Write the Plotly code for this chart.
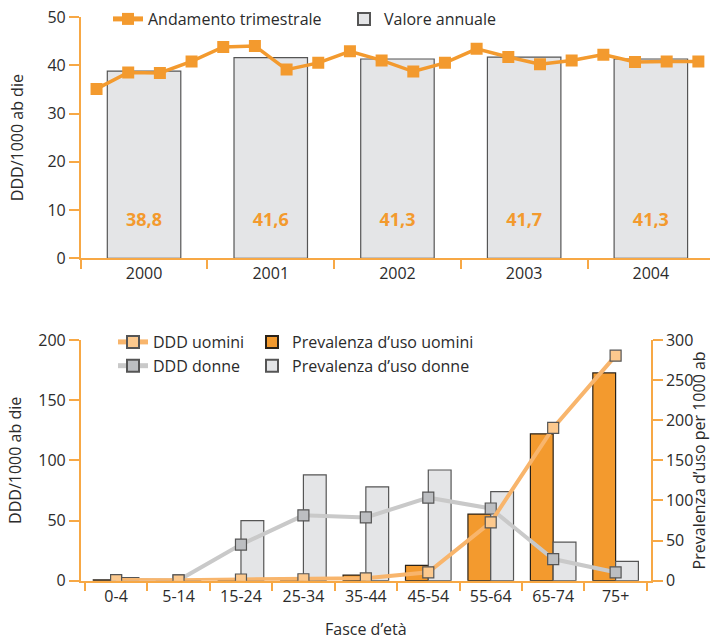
import plotly.graph_objects as go

# ---- data: annual series with quarterly trend ----
years = ["2000", "2001", "2002", "2003", "2004"]
annual_values = [38.8, 41.6, 41.3, 41.7, 41.3]
quarterly_values = [35.1, 38.5, 38.4, 40.8,
                    43.8, 44.0, 39.1, 40.5,
                    42.9, 41.0, 38.7, 40.5,
                    43.4, 41.7, 40.2, 41.0,
                    42.2, 40.7, 40.8, 40.8]

# ---- data: age bands ----
age_bands = ["0-4", "5-14", "15-24", "25-34", "35-44", "45-54", "55-64", "65-74", "75+"]
ddd_men = [0.5, 0.3, 1.0, 1.2, 2.0, 7.0, 48.5, 127, 187]
ddd_women = [0.3, 0.3, 30, 54.3, 52.6, 69, 60, 18, 7]
prev_men = [1, 0, 1, 4, 7, 19, 83, 183, 259]
prev_women = [4, 0, 75, 132, 117, 138, 111, 48, 24]

# ---- styling ----
FONT = "Open Sans"
TXT = "#2b2b2b"
AXIS = "#f7a845"
ORANGE = "#f39a2e"
LIGHT_ORANGE = "#f8b56c"
MARKER_ORANGE = "#fcc98e"
BAR_GREY = "#e4e5e7"
LINE_GREY = "#c9c9c9"
MARKER_GREY = "#bcbec1"
LABEL_Y = 7.6  # height of the value labels inside the annual bars

W, H = 710, 640
def px_x(p): return p / W
def px_y(p): return 1 - p / H

# quarter positions across each year's band
year_pos = list(range(len(years)))
quarter_pos = [y - 0.5 + 0.125 + 0.25 * q for y in year_pos for q in range(4)]

fig = go.Figure()

# top chart
fig.add_trace(go.Bar(
    x=year_pos, y=annual_values, width=0.58, name="Valore annuale",
    marker=dict(color=BAR_GREY, line=dict(color="#555555", width=1.2)),
    xaxis="x", yaxis="y", legend="legend4",
))
fig.add_trace(go.Scatter(
    x=quarter_pos, y=quarterly_values, mode="lines+markers", name="Andamento trimestrale",
    line=dict(color=ORANGE, width=3.5),
    marker=dict(symbol="square", size=12, color=ORANGE),
    xaxis="x", yaxis="y", legend="legend",
))
fig.add_trace(go.Scatter(
    x=year_pos, y=[LABEL_Y] * len(years), mode="text",
    text=[f"{v:.1f}".replace(".", ",") for v in annual_values],
    textfont=dict(family=FONT, size=18, color=ORANGE, weight="bold"),
    showlegend=False, hoverinfo="skip", xaxis="x", yaxis="y",
))

# bottom chart: prevalence bars (right scale)
fig.add_trace(go.Bar(
    x=age_bands, y=prev_men, name="Prevalenza d\u2019uso uomini",
    marker=dict(color=ORANGE, line=dict(color="#2a2218", width=1.2)),
    xaxis="x2", yaxis="y2", legend="legend3",
))
fig.add_trace(go.Bar(
    x=age_bands, y=prev_women, name="Prevalenza d\u2019uso donne",
    marker=dict(color=BAR_GREY, line=dict(color="#555555", width=1.2)),
    xaxis="x2", yaxis="y2", legend="legend3",
))
# DDD lines (left scale); men drawn last so their markers sit on top
fig.add_trace(go.Scatter(
    x=age_bands, y=ddd_women, mode="lines+markers", name="DDD donne",
    line=dict(color=LINE_GREY, width=4),
    marker=dict(symbol="square", size=11, color=MARKER_GREY, line=dict(color="#555555", width=1.2)),
    xaxis="x2", yaxis="y3", legend="legend2", legendrank=2,
))
fig.add_trace(go.Scatter(
    x=age_bands, y=ddd_men, mode="lines+markers", name="DDD uomini",
    line=dict(color=LIGHT_ORANGE, width=4),
    marker=dict(symbol="square", size=11, color=MARKER_ORANGE, line=dict(color="#555555", width=1.2)),
    xaxis="x2", yaxis="y3", legend="legend2", legendrank=1,
))

axis_common = dict(
    showline=True, linecolor=AXIS, linewidth=1.5, showgrid=False, zeroline=False,
    ticks="outside", tickcolor=AXIS, tickwidth=1.5, automargin=False,
    tickfont=dict(family=FONT, size=16, color=TXT),
)
title_font = dict(family=FONT, size=16, color=TXT)

cat_w = 126.7
top_span = (W - 80.7) / cat_w

legend_common = dict(
    bgcolor="rgba(0,0,0,0)", font=dict(family=FONT, size=16, color=TXT),
    xanchor="left", yanchor="top", tracegroupgap=0, itemsizing="constant",
)

fig.update_layout(
    width=W, height=H,
    margin=dict(l=0, r=0, t=0, b=0),
    paper_bgcolor="white", plot_bgcolor="white",
    font=dict(family=FONT, size=16, color=TXT),
    barmode="group", bargap=0.27, bargroupgap=0,
    xaxis=dict(
        axis_common, domain=[px_x(80.7), 1.0], anchor="y",
        range=[-0.5, -0.5 + top_span],
        tickmode="array", tickvals=year_pos, ticktext=years, ticklen=0,
        minor=dict(tickmode="array", tickvals=[p - 0.5 for p in year_pos] + [4.5],
                   ticks="outside", ticklen=9, tickcolor=AXIS, tickwidth=1.5),
    ),
    yaxis=dict(
        axis_common, domain=[px_y(258.3), px_y(17)], anchor="x",
        range=[0, 50], tickvals=[0, 10, 20, 30, 40, 50], ticklen=10,
        title=dict(text="DDD/1000 ab die", font=title_font, standoff=20),
    ),
    xaxis2=dict(
        axis_common, domain=[px_x(80.7), px_x(651)], anchor="y2",
        type="category", tickson="boundaries", ticklen=9,
        title=dict(text="Fasce d\u2019et\u00e0", font=title_font, standoff=18),
    ),
    yaxis2=dict(
        axis_common, domain=[px_y(580.7), px_y(340)], anchor="x2", side="right",
        range=[0, 300], tickvals=[0, 50, 100, 150, 200, 250, 300], ticklen=10,
        title=dict(text="Prevalenza d\u2019uso per 1000 ab", font=title_font, standoff=7),
    ),
    yaxis3=dict(
        axis_common, overlaying="y2", anchor="x2", side="left",
        range=[0, 200], tickvals=[0, 50, 100, 150, 200], ticklen=10,
        title=dict(text="DDD/1000 ab die", font=title_font, standoff=13),
    ),
    legend=dict(legend_common, x=px_x(108), y=px_y(2)),
    legend4=dict(legend_common, x=px_x(344), y=px_y(2)),
    legend2=dict(legend_common, x=px_x(113), y=px_y(325)),
    legend3=dict(legend_common, x=px_x(252), y=px_y(325)),
)

fig.write_html("out.html")
